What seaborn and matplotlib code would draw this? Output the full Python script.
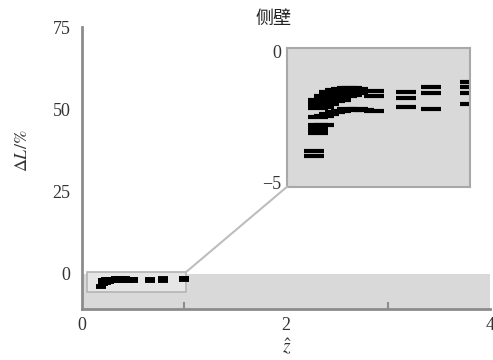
import matplotlib
matplotlib.use("Agg")
import matplotlib.pyplot as plt
import seaborn as sns
import pandas as pd
from matplotlib.patches import Rectangle, ConnectionPatch

# ---- data ----
x_side = [0.21, 0.21, 0.21,
          0.24, 0.24, 0.24, 0.24,
          0.27, 0.27, 0.27, 0.27,
          0.30, 0.30, 0.30, 0.30,
          0.33, 0.33, 0.33, 0.33,
          0.36, 0.36, 0.36,
          0.39, 0.39, 0.39,
          0.42, 0.42,
          0.50, 0.50,
          0.21, 0.24, 0.27, 0.30, 0.33, 0.36, 0.39, 0.42, 0.45, 0.50,
          0.21, 0.21, 0.21, 0.24,
          0.19, 0.19,
          0.67, 0.67, 0.67,
          0.80, 0.80, 0.80,
          1.00, 1.00, 1.00, 1.00]
y_side = [-1.85, -2.00, -2.15,
          -1.70, -1.85, -2.00, -2.12,
          -1.55, -1.70, -1.85, -1.98,
          -1.45, -1.60, -1.75, -1.88,
          -1.40, -1.55, -1.70, -1.82,
          -1.38, -1.52, -1.68,
          -1.38, -1.52, -1.65,
          -1.42, -1.58,
          -1.50, -1.70,
          -2.50, -2.45, -2.38, -2.30, -2.25, -2.20, -2.22, -2.20, -2.22, -2.25,
          -2.80, -2.95, -3.10, -2.80,
          -3.78, -3.96,
          -1.55, -1.75, -2.12,
          -1.33, -1.58, -2.19,
          -1.15, -1.33, -1.58, -1.98]
main_xticks = [0, 2, 4]
main_yticks = [0, 25, 50, 75]
inset_yticks = [0, -5]
title_text = "侧壁"

df = pd.DataFrame({"z": x_side, "dL": y_side})

sns.set_style("white")
plt.rcParams["font.family"] = ["Liberation Serif", "DejaVu Serif"]
plt.rcParams["mathtext.fontset"] = "stix"

fig = plt.figure(figsize=(4.93, 3.6), dpi=100)
ax = fig.add_axes([0.166, 0.142, 0.828, 0.783])

ylo, yhi = -10.7, 75.3
ax.axhspan(ylo, 0, color="#d9d9d9", zorder=0, lw=0)
ax.add_patch(Rectangle((0.05, -5.4), 0.97, 5.9, facecolor="#e6e6e6",
                       edgecolor="#b4b4b4", lw=1.2, zorder=1))
sns.scatterplot(data=df, x="z", y="dL", marker="_", s=60, linewidth=2.8,
                color="black", ax=ax, zorder=3, legend=False)
ax.set_xlim(0, 4)
ax.set_ylim(ylo, yhi)
ax.set_xticks(main_xticks)
ax.set_xticks([1, 3], minor=True)
ax.set_yticks(main_yticks)
ax.set_xlabel("")
ax.set_ylabel("")
for s in ["top", "right"]:
    ax.spines[s].set_visible(False)
for s in ["left", "bottom"]:
    ax.spines[s].set_color("#8c8c8c")
    ax.spines[s].set_linewidth(2)
ax.tick_params(axis="both", which="both", direction="in", length=5, width=1.5,
               color="#8c8c8c", labelcolor="#333333", labelsize=13)
ax.tick_params(axis="y", pad=8)
ax.tick_params(axis="x", pad=6)
ax.tick_params(axis="x", which="minor", bottom=True, length=5)

fig.text(0.045, 0.58, r"$\Delta L/\%$", rotation=90, ha="center", va="center",
         fontsize=13, color="#333333")
fig.text(0.582, 0.035, r"$\hat{z}$", ha="center", va="center", fontsize=14,
         color="#333333")

# inset
ins = fig.add_axes([0.582, 0.481, 0.371, 0.386])
ins.set_facecolor("#d9d9d9")
sns.scatterplot(data=df, x="z", y="dL", marker="_", s=190, linewidth=3.0,
                color="black", ax=ins, legend=False)
ins.set_xlim(0.05, 1.0)
ins.set_ylim(-5.15, 0.15)
ins.set_xticks([])
ins.set_yticks(inset_yticks)
ins.set_yticklabels(["0", "−5"])
ins.set_xlabel("")
ins.set_ylabel("")
for s in ins.spines.values():
    s.set_color("#a8a8a8")
    s.set_linewidth(1.5)
    s.set_visible(True)
ins.tick_params(axis="y", length=0, pad=4, labelsize=13, labelcolor="#333333")

con = ConnectionPatch(xyA=(1.02, 0.5), coordsA=ax.transData,
                      xyB=(0.0, 0.0), coordsB=ins.transAxes,
                      color="#bdbdbd", lw=1.5, zorder=5)
fig.add_artist(con)

fig.text(0.554, 0.948, title_text, ha="center", va="center", fontsize=13,
         family=["Noto Sans CJK SC", "DejaVu Sans"], color="#222222")

fig.savefig("out.png", dpi=100)
